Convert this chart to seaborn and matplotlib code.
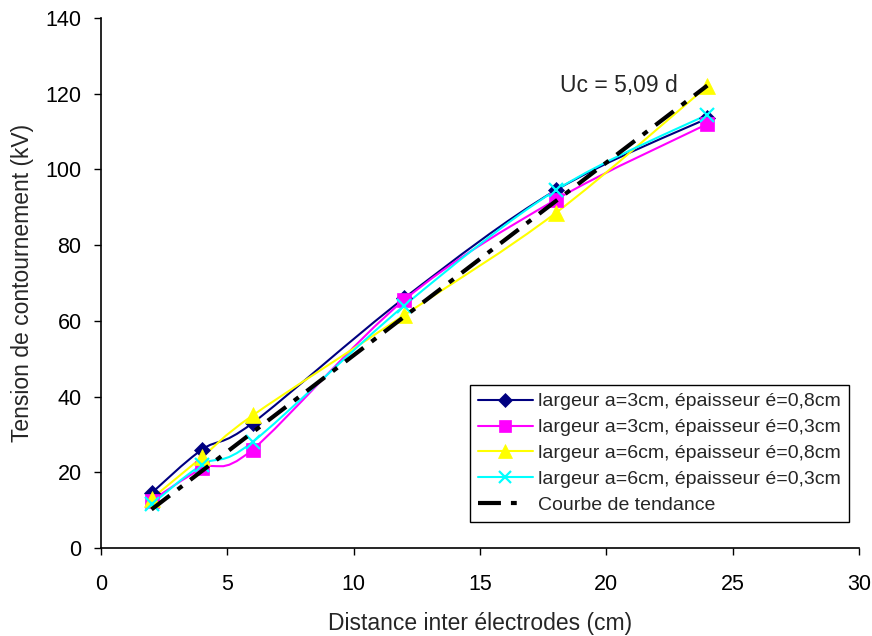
import matplotlib
matplotlib.use("Agg")
import matplotlib.pyplot as plt
from matplotlib.path import Path
from matplotlib.patches import PathPatch
from matplotlib.lines import Line2D
import seaborn as sns
import numpy as np
import pandas as pd

distance = [2, 4, 6, 12, 18, 24]
s_a3_e08 = [14.5, 26, 33, 66, 94.5, 113.5]
s_a3_e03 = [12.5, 21, 26, 65.5, 92, 112]
s_a6_e08 = [13, 24, 35, 61.5, 88.5, 122]
s_a6_e03 = [11.5, 22, 28, 64, 94.5, 114.5]
labels = ["largeur a=3cm, épaisseur é=0,8cm",
          "largeur a=3cm, épaisseur é=0,3cm",
          "largeur a=6cm, épaisseur é=0,8cm",
          "largeur a=6cm, épaisseur é=0,3cm"]
slope = 5.09
trend_label = "Courbe de tendance"

sns.set_theme(style="white")
plt.rcParams['font.family'] = ['Liberation Sans', 'DejaVu Sans']

fig = plt.figure(figsize=(8.72, 6.36), dpi=100)
ax = fig.add_axes([0.1158, 0.1384, 0.985 - 0.1158, 0.9717 - 0.1384])


def smooth_path(xs, ys):
    # Excel-style smoothed line: cubic Bezier through the points
    pts = np.column_stack([xs, ys]).astype(float)
    n = len(pts)
    verts = [pts[0]]
    codes = [Path.MOVETO]
    for i in range(n - 1):
        p0 = pts[i - 1] if i > 0 else pts[i]
        p1 = pts[i]
        p2 = pts[i + 1]
        p3 = pts[i + 2] if i + 2 < n else pts[i + 1]
        c1 = p1 + (p2 - p0) / 6.0
        c2 = p2 - (p3 - p1) / 6.0
        verts += [c1, c2, p2]
        codes += [Path.CURVE4] * 3
    return Path(verts, codes)


series = [s_a3_e08, s_a3_e03, s_a6_e08, s_a6_e03]
colors = ["#000080", "#FF00FF", "#FFFF00", "#00FFFF"]
markers = ["D", "s", "^", "x"]
msizes = [8, 10, 11, 10]
handles = []
for vals, lab, c, m, ms in zip(series, labels, colors, markers, msizes):
    ax.add_patch(PathPatch(smooth_path(distance, vals), facecolor="none",
                           edgecolor=c, linewidth=1.5, zorder=2))
    df = pd.DataFrame({"d": distance, "u": vals})
    sns.lineplot(data=df, x="d", y="u", ax=ax, color=c, marker=m, markersize=ms,
                 linestyle="", markeredgecolor=c, markerfacecolor=c,
                 markeredgewidth=1.6 if m == "x" else 0.5, zorder=3, legend=False)
    handles.append(Line2D([], [], color=c, marker=m, markersize=ms * 0.9,
                          markeredgecolor=c, markerfacecolor=c,
                          markeredgewidth=1.6 if m == "x" else 0.5,
                          linewidth=1.5, label=lab))

trend = pd.DataFrame({"d": [distance[0], distance[-1]],
                      "u": [slope * distance[0], slope * distance[-1]]})
sns.lineplot(data=trend, x="d", y="u", ax=ax, color="black", linewidth=3,
             legend=False, zorder=4)
tl = ax.lines[-1]
tl.set_dashes([5.5, 2.4, 1.4, 2.4])
handles.append(Line2D([], [], color="black", linewidth=3, dashes=[5.5, 2.4, 1.4, 6],
                      label=trend_label))

ax.text(20.5, 122.3, "Uc = 5,09 d", fontsize=16.5, ha="center", va="center")

ax.set_xlim(0, 30)
ax.set_ylim(0, 140)
ax.set_xticks(range(0, 31, 5))
ax.set_yticks(range(0, 141, 20))
ax.tick_params(axis="both", which="both", direction="out", length=5, width=1,
               labelsize=15.5, bottom=True, left=True, colors="black")
ax.tick_params(axis="x", pad=14)
ax.tick_params(axis="y", pad=9)
for s in ["top", "right"]:
    ax.spines[s].set_visible(False)
for s in ["left", "bottom"]:
    ax.spines[s].set_color("black")
    ax.spines[s].set_linewidth(1.2)
ax.set_xlabel("Distance inter électrodes (cm)", fontsize=16.5, labelpad=12)
ax.set_ylabel("Tension de contournement (kV)", fontsize=16.5, labelpad=8)

leg = ax.legend(handles=handles, loc="lower right", bbox_to_anchor=(0.9868, 0.049),
                borderaxespad=0, fontsize=14,
                frameon=True, fancybox=False, edgecolor="black", framealpha=1,
                handlelength=2.8, borderpad=0.4, labelspacing=0.43, handletextpad=0.3)
leg.get_frame().set_linewidth(1.0)

fig.savefig("out.png", dpi=100, facecolor="white")
